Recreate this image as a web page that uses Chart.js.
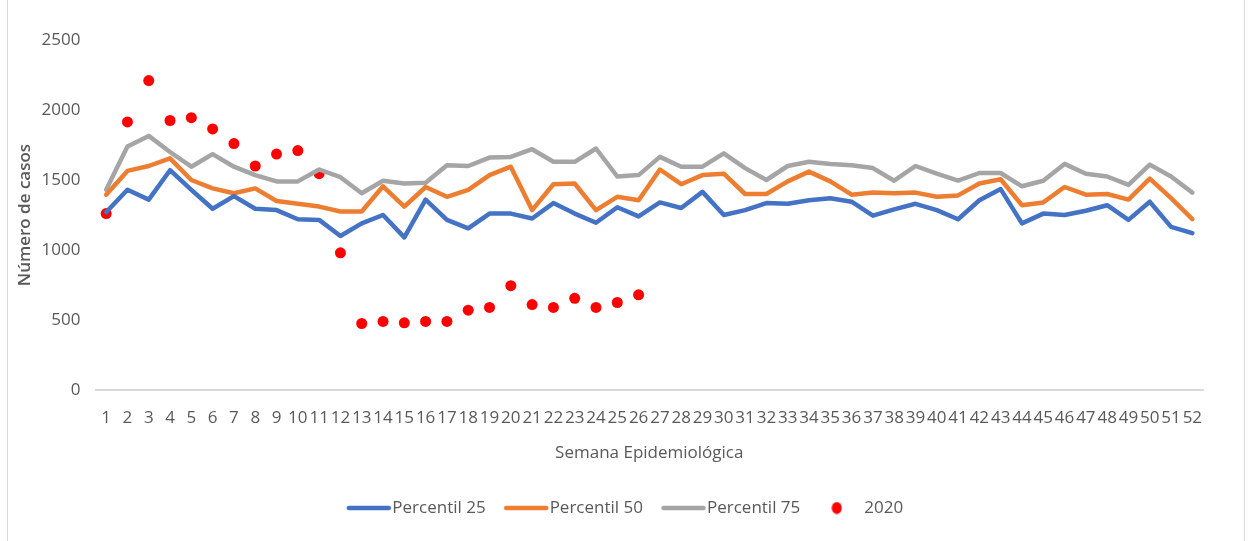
<!DOCTYPE html>
<html>
<head>
<meta charset="utf-8">
<script src="https://cdn.jsdelivr.net/npm/chart.js@4"></script>
<style>
  html, body { margin: 0; padding: 0; background: #fff; }
  #wrap { position: relative; width: 1249px; height: 541px; overflow: hidden; }
  #frame { position: absolute; left: 7px; top: -2px; width: 1236px; height: 550px; border: 1px solid #d9d9d9; }
  canvas { position: absolute; left: 0; top: 0; }
</style>
</head>
<body>
<div id="wrap">
  <div id="frame"></div>
  <canvas id="chart" width="1249" height="541"></canvas>
</div>
<script>
const weeks = ['1','2','3','4','5','6','7','8','9','10','11','12','13','14','15','16','17','18','19','20',
  '21','22','23','24','25','26','27','28','29','30','31','32','33','34','35','36','37','38','39','40',
  '41','42','43','44','45','46','47','48','49','50','51','52'];

const p25 = [1270,1430,1360,1570,1430,1295,1385,1295,1285,1220,1215,1100,1190,1250,1090,1360,1215,1155,1260,1260,
  1225,1335,1260,1195,1305,1240,1340,1300,1415,1250,1285,1335,1330,1355,1370,1345,1245,1290,1330,1285,
  1220,1355,1435,1190,1260,1250,1280,1320,1215,1345,1165,1120];

const p50 = [1395,1565,1600,1655,1500,1440,1405,1440,1350,1330,1310,1275,1275,1455,1310,1450,1380,1430,1535,1595,
  1285,1470,1475,1285,1380,1355,1575,1470,1535,1545,1400,1400,1490,1560,1490,1395,1410,1405,1410,1380,
  1390,1475,1505,1320,1340,1450,1395,1400,1360,1510,1370,1220];

const p75 = [1430,1740,1815,1700,1595,1685,1595,1535,1490,1490,1575,1520,1405,1495,1475,1480,1605,1600,1660,1665,
  1720,1630,1630,1725,1525,1535,1665,1595,1595,1690,1585,1500,1600,1630,1615,1605,1585,1495,1600,1545,
  1495,1550,1550,1455,1495,1615,1545,1525,1465,1610,1525,1410];

const cases2020 = [1260,1915,2210,1925,1945,1865,1760,1600,1685,1710,1545,980,475,490,480,490,490,570,590,745,
  610,590,655,590,625,680];

const yTicks = [0, 500, 1000, 1500, 2000, 2500];

const grey = '#595959';
const font = "'Open Sans', 'DejaVu Sans', sans-serif";
const colors = { p25: '#4472c4', p50: '#ed7d31', p75: '#a5a5a5', y2020: '#ff0000' };

// legend markers: a line sample sitting close to its text, and a small dot
function lineMarker(color) {
  const c = document.createElement('canvas');
  c.width = 60; c.height = 8;
  const g = c.getContext('2d');
  g.strokeStyle = color; g.lineWidth = 4.5; g.lineCap = 'round';
  g.beginPath(); g.moveTo(14, 4); g.lineTo(54, 4); g.stroke();
  return c;
}
function dotMarker(color) {
  const c = document.createElement('canvas');
  c.width = 11; c.height = 13;
  const g = c.getContext('2d');
  g.fillStyle = color;
  g.beginPath(); g.ellipse(5.5, 6.5, 5, 6, 0, 0, Math.PI * 2); g.fill();
  return c;
}
const markers = {
  'Percentil 25': lineMarker(colors.p25),
  'Percentil 50': lineMarker(colors.p50),
  'Percentil 75': lineMarker(colors.p75),
  '2020': dotMarker(colors.y2020)
};

function lineSet(label, data, color) {
  return {
    label, data,
    borderColor: color, backgroundColor: color,
    borderWidth: 4.5, borderCapStyle: 'round', borderJoinStyle: 'round',
    pointRadius: 0, pointHoverRadius: 0, tension: 0
  };
}

new Chart(document.getElementById('chart'), {
  type: 'line',
  data: {
    labels: weeks,
    datasets: [
      lineSet('Percentil 25', p25, colors.p25),
      lineSet('Percentil 50', p50, colors.p50),
      lineSet('Percentil 75', p75, colors.p75),
      {
        label: '2020', data: cases2020,
        showLine: false, borderWidth: 0,
        pointRadius: 5.5, pointBackgroundColor: colors.y2020, pointBorderWidth: 0,
        backgroundColor: colors.y2020, borderColor: colors.y2020
      }
    ]
  },
  options: {
    responsive: false,
    animation: false,
    events: [],
    layout: { padding: { top: 40, left: 0, right: 0, bottom: 14.5 } },
    plugins: {
      tooltip: { enabled: false },
      legend: {
        position: 'bottom',
        labels: {
          usePointStyle: true,
          pointStyleWidth: 38,
          padding: 17.5,
          color: grey,
          font: { family: font, size: 17 },
          generateLabels(chart) {
            const items = Chart.defaults.plugins.legend.labels.generateLabels(chart);
            items.forEach(it => { it.pointStyle = markers[it.text]; });
            return items;
          }
        }
      }
    },
    scales: {
      x: {
        offset: true,
        grid: { display: false, drawTicks: false },
        border: { display: true, color: '#d9d9d9', width: 2 },
        ticks: {
          autoSkip: false, maxRotation: 0, minRotation: 0, padding: 18,
          color: grey, font: { family: font, size: 17 }
        },
        title: {
          display: true, text: 'Semana Epidemiológica', color: grey,
          font: { family: font, size: 17 }, padding: { top: 0, bottom: 18.8 }
        },
        afterFit(scale) { scale.height = 92; }
      },
      y: {
        min: 0, max: 2500,
        grid: { display: false, drawTicks: false },
        border: { display: false },
        afterBuildTicks(scale) { scale.ticks = yTicks.map(v => ({ value: v })); },
        ticks: {
          padding: 15, color: grey, font: { family: font, size: 17 },
          callback: v => String(v)
        },
        title: {
          display: true, text: 'Número de casos', color: grey,
          font: { family: font, size: 17, weight: '600' }, padding: { top: 15, bottom: 0 }
        },
        afterFit(scale) { scale.width = 95.5; }
      },
      // empty right-hand axis that only reserves the margin, so the legend stays centred
      yRight: {
        position: 'right',
        min: 0, max: 2500,
        grid: { display: false, drawTicks: false },
        border: { display: false },
        ticks: { display: false },
        afterFit(scale) { scale.width = 46; }
      }
    }
  }
});
</script>
</body>
</html>
